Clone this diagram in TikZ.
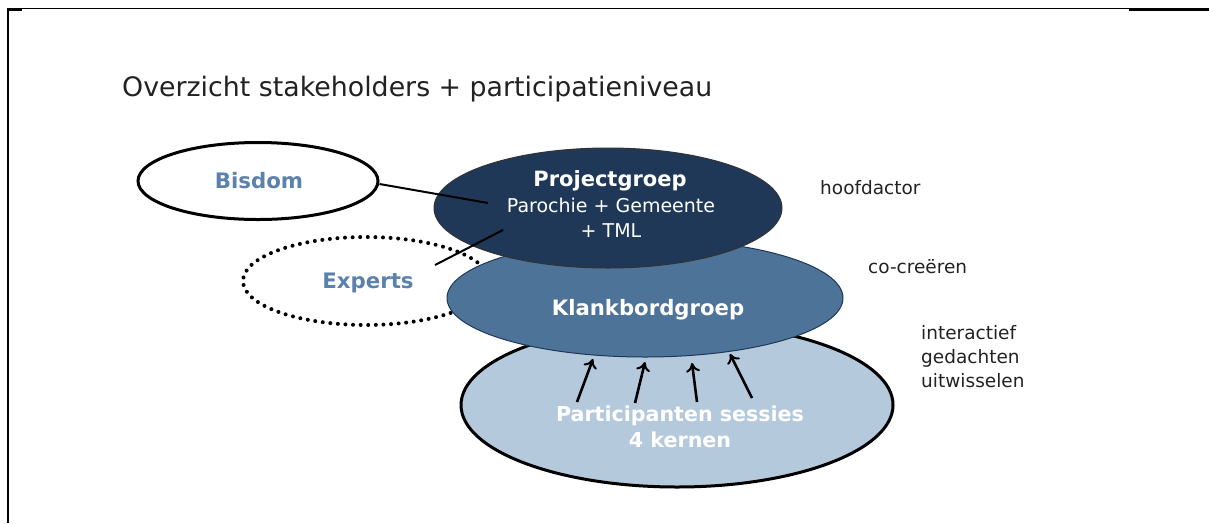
\documentclass[tikz,border=0pt]{standalone}
\usepackage{fontspec}
\setmainfont{DejaVu Sans}
\usetikzlibrary{shapes.geometric,arrows.meta}
\definecolor{navy}{HTML}{1F3857}
\definecolor{midblue}{HTML}{4E7399}
\definecolor{lightblue}{HTML}{B5C9DC}
\definecolor{labelblue}{HTML}{5B82AD}
\definecolor{txtgray}{HTML}{222222}
\tikzset{
  oval/.style={ellipse, inner sep=0pt},
  whitebold/.style={text=white, font=\bfseries\fontsize{21}{22}\selectfont, align=center, inner sep=0pt},
  bluebold/.style={text=labelblue, font=\bfseries\fontsize{21.3}{22}\selectfont, inner sep=0pt},
  sidelabel/.style={text=txtgray, font=\fontsize{18.5}{24}\selectfont, anchor=west, align=left, inner sep=0pt},
  link/.style={line width=2pt, black},
  uparrow/.style={line width=2.6pt, black, -{To[length=9pt,width=14pt,line width=2pt]}}
}
\begin{document}
\begin{tikzpicture}[x=1pt,y=-1pt]
\useasboundingbox (0,0) rectangle (1209,523);
% frame
\draw[line width=1.3pt] (8,523) -- (8,8.5) -- (1209,8.5);
\draw[line width=2.5pt] (7,9.5) -- (22,9.5);
\draw[line width=2.5pt] (1129,10) -- (1209,10);
% title
\node[anchor=base west, inner sep=0pt, text=txtgray, font=\fontsize{26.8}{28}\selectfont] (title) at (122,96) {Overzicht stakeholders + participatieniveau};
% experts (behind)
\node[oval, minimum width=246pt, minimum height=88pt, draw=black, line width=4pt, dash pattern=on 0pt off 7.6pt, line cap=round] (experts) at (366,281) {};
% participanten
\node[oval, minimum width=432pt, minimum height=164pt, fill=lightblue, draw=black, line width=3pt] (part) at (677,405) {};
% klankbord
\node[oval, minimum width=396pt, minimum height=118pt, fill=midblue, draw=navy, line width=1pt] (klank) at (645,298) {};
% projectgroep
\node[oval, minimum width=348pt, minimum height=120pt, fill=navy, draw=black!80, line width=1pt] (proj) at (608,208) {};
% bisdom
\node[oval, minimum width=240pt, minimum height=77pt, draw=black, line width=3pt, fill=white] (bisdom) at (258,181) {};
% texts
\node[bluebold] (bisdomtxt) at (259,181) {Bisdom};
\node[bluebold] (expertstxt) at (368,283) {Experts};
\node[whitebold] (projtxt) at (610,181) {Projectgroep};
\node[text=white, font=\fontsize{19}{25}\selectfont, align=center, inner sep=0pt] (projsub) at (611,218) {Parochie + Gemeente\\+ TML};
\node[whitebold, font=\bfseries\fontsize{21.2}{22}\selectfont] (klanktxt) at (648,310) {Klankbordgroep};
\node[whitebold, font=\bfseries\fontsize{20.6}{26}\selectfont] (parttxt) at (680,427) {Participanten sessies\\4 kernen};
% side labels
\node[sidelabel] (l1) at (820,188) {hoofdactor};
\node[sidelabel] (l2) at (868,267) {co-creëren};
\node[sidelabel] (l3) at (921,357) {interactief\\gedachten\\uitwisselen};
% connectors
\coordinate (p1) at (488,203);
\coordinate (p2) at (503,230);
\coordinate (e1) at (435,265);
\draw[link] (bisdom.east) ++(0,3) -- (p1);
\draw[link] (e1) -- (p2);
% arrows
\coordinate (a1s) at (577,402); \coordinate (a1e) at (593,359);
\coordinate (a2s) at (635,403); \coordinate (a2e) at (645,362);
\coordinate (a3s) at (697,402); \coordinate (a3e) at (692,363);
\coordinate (a4s) at (752,398); \coordinate (a4e) at (730,354);
\draw[uparrow] (a1s) -- (a1e);
\draw[uparrow] (a2s) -- (a2e);
\draw[uparrow] (a3s) -- (a3e);
\draw[uparrow] (a4s) -- (a4e);
\end{tikzpicture}
\end{document}
